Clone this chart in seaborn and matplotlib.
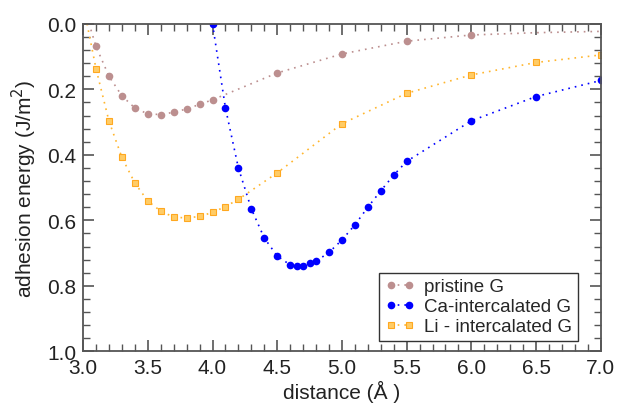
import matplotlib
matplotlib.use("Agg")
from matplotlib import pyplot as plt
from matplotlib.ticker import MultipleLocator, FormatStrFormatter
import seaborn as sns

# data (distance in Angstrom, adhesion energy in J/m^2)
pristine_x = [3.0, 3.1, 3.2, 3.3, 3.4, 3.5, 3.6, 3.7, 3.8, 3.9, 4.0, 4.5, 5.0, 5.5, 6.0, 6.5, 7.0]
pristine_y = [-0.06, 0.069, 0.16, 0.22, 0.257, 0.275, 0.277, 0.27, 0.26, 0.246, 0.232,
              0.15, 0.092, 0.053, 0.034, 0.027, 0.023]

ca_x = [4.0, 4.1, 4.2, 4.3, 4.4, 4.5, 4.6, 4.65, 4.7, 4.75, 4.8, 4.9, 5.0, 5.1, 5.2,
        5.3, 5.4, 5.5, 6.0, 6.5, 7.0]
ca_y = [0.0, 0.257, 0.44, 0.565, 0.654, 0.709, 0.736, 0.739, 0.738, 0.731, 0.725,
        0.698, 0.66, 0.614, 0.56, 0.51, 0.462, 0.42, 0.296, 0.222, 0.173]

li_x = [3.0, 3.1, 3.2, 3.3, 3.4, 3.5, 3.6, 3.7, 3.8, 3.9, 4.0, 4.1, 4.2, 4.5, 5.0,
        5.5, 6.0, 6.5, 7.0]
li_y = [-0.06, 0.137, 0.297, 0.408, 0.486, 0.541, 0.572, 0.59, 0.593, 0.588, 0.576,
        0.558, 0.536, 0.455, 0.305, 0.212, 0.156, 0.118, 0.095]

sns.set_style("ticks")
plt.rcParams['font.family'] = ['Liberation Sans', 'DejaVu Sans']

fig = plt.figure(figsize=(6.2, 4.14), dpi=100)
ax = fig.add_axes([0.134, 0.149, 0.835, 0.791])

dots = (0, (1, 3))

# pristine graphene: no markers on the first and last two points
sns.lineplot(x=pristine_x, y=pristine_y, ax=ax, sort=False, estimator=None,
             color='#bc8f8f', linestyle=dots, linewidth=1.2, marker='o',
             markersize=5.5, markeredgewidth=0, markevery=list(range(1, 15)),
             label='pristine G')

sns.lineplot(x=ca_x, y=ca_y, ax=ax, sort=False, estimator=None,
             color='#0000ff', linestyle=dots, linewidth=1.2, marker='o',
             markersize=5.5, markeredgewidth=0, label='Ca-intercalated G')

sns.lineplot(x=li_x, y=li_y, ax=ax, sort=False, estimator=None,
             color='#ffb62e', linestyle=dots, linewidth=1.2, marker='s',
             markersize=5, markerfacecolor='#ffcc66', markeredgecolor='#ffa820',
             markeredgewidth=0.8, markevery=list(range(1, len(li_x))),
             label='Li - intercalated G')

ax.set_xlim(3.0, 7.0)
ax.set_ylim(1.0, 0.0)

ax.xaxis.set_major_locator(MultipleLocator(0.5))
ax.xaxis.set_minor_locator(MultipleLocator(0.1))
ax.yaxis.set_major_locator(MultipleLocator(0.2))
ax.yaxis.set_minor_locator(MultipleLocator(0.04))
ax.xaxis.set_major_formatter(FormatStrFormatter('%.1f'))
ax.yaxis.set_major_formatter(FormatStrFormatter('%.1f'))

ax.tick_params(which='both', direction='in', top=True, right=True,
               color='#555555', labelsize=15, labelcolor='#222222')
ax.tick_params(which='major', length=8, width=1.2, pad=5)
ax.tick_params(which='minor', length=5, width=1.0)
for side in ax.spines.values():
    side.set_color('#555555')
    side.set_linewidth(1.3)

ax.set_xlabel('distance (Å )', fontsize=15, color='#222222', labelpad=2)
ax.set_ylabel('adhesion energy (J/m$^2$)', fontsize=15, color='#222222', labelpad=6)

leg = ax.legend(loc='lower right', bbox_to_anchor=(0.956, 0.032), fontsize=13.5,
                frameon=True, fancybox=False, edgecolor='#333333', framealpha=1,
                borderpad=0.3, labelspacing=0.15, handlelength=1.6,
                handletextpad=0.5, borderaxespad=0, numpoints=2)
leg.get_frame().set_linewidth(1.0)

plt.savefig('out.png', dpi=100)
